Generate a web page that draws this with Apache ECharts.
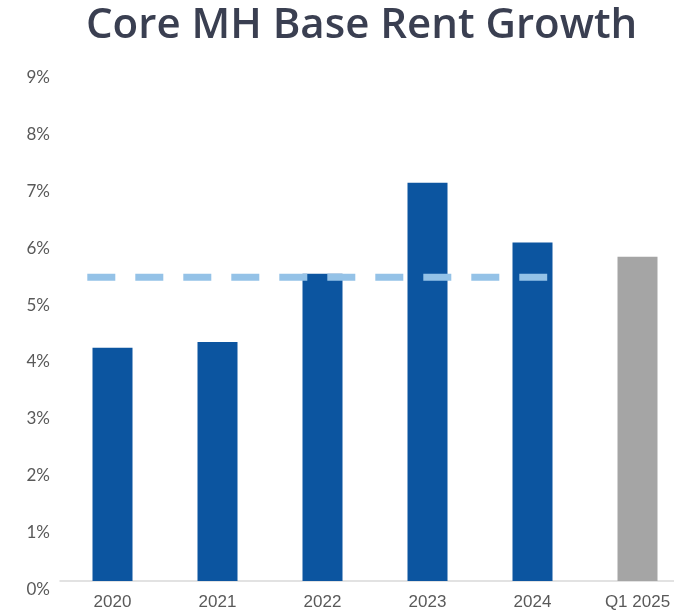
<!DOCTYPE html>
<html>
<head>
<meta charset="utf-8">
<script src="https://cdn.jsdelivr.net/npm/echarts@6/dist/echarts.min.js"></script>
<style>
  html, body { margin: 0; padding: 0; background: #fff; }
  #main { width: 674px; height: 611px; }
</style>
</head>
<body>
<div id="main"></div>
<script>
const categories = ['2020', '2021', '2022', '2023', '2024', 'Q1 2025']
const growth = [4.1, 4.2, 5.4, 7.0, 5.95, 5.7]
const barColors = ['#0c55a0', '#0c55a0', '#0c55a0', '#0c55a0', '#0c55a0', '#a5a5a5']
// 2020-2024 average, drawn as dashed line
const avgValue = 5.34
// span of the dashed line in category units (0 = left edge of first band)
const avgSpan = [0.26, 4.64]
const yTicks = [0, 1, 2, 3, 4, 5, 6, 7, 8, 9]

const chart = echarts.init(document.getElementById('main'))
chart.setOption({
  animation: false,
  title: {
    text: 'Core MH Base Rent Growth',
    left: 81,
    top: 0,
    textStyle: {
      fontFamily: 'Open Sans',
      fontWeight: 600,
      fontSize: 42,
      color: '#3a3f51'
    }
  },
  grid: {
    left: 60,
    width: 630,
    top: 69,
    bottom: 30,
    outerBoundsMode: 'none',
    containLabel: false
  },
  xAxis: [
    {
      type: 'category',
      data: categories,
      axisTick: { show: false },
      axisLine: { lineStyle: { color: '#d9d9d9', width: 1.5 } },
      axisLabel: {
        color: '#595959',
        fontFamily: 'Liberation Sans',
        fontSize: 17,
        margin: 13
      }
    },
    {
      type: 'value',
      min: 0,
      max: categories.length,
      show: false
    }
  ],
  yAxis: {
    type: 'value',
    min: yTicks[0],
    max: yTicks[yTicks.length - 1],
    interval: 1,
    splitLine: { show: false },
    axisLine: { show: false },
    axisTick: { show: false },
    axisLabel: {
      formatter: '{value}%',
      color: '#595959',
      fontFamily: 'Lato',
      fontSize: 17,
      margin: 10,
      verticalAlign: 'top'
    }
  },
  series: [
    {
      type: 'bar',
      data: growth.map((v, i) => ({ value: v, itemStyle: { color: barColors[i] } })),
      barWidth: 40
    },
    {
      type: 'line',
      xAxisIndex: 1,
      data: avgSpan.map(x => [x, avgValue]),
      symbol: 'none',
      lineStyle: {
        color: '#94c2e7',
        width: 7,
        type: [28, 20],
        cap: 'butt'
      },
      z: 5
    }
  ]
})
</script>
</body>
</html>
